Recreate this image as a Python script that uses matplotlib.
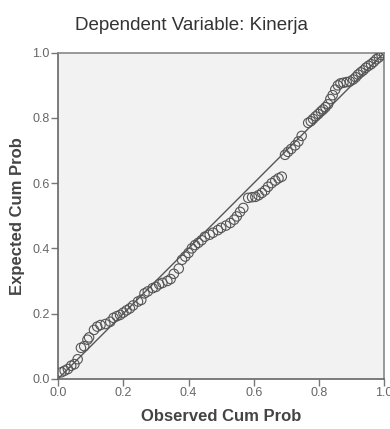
import matplotlib
matplotlib.use('Agg')
import matplotlib.pyplot as plt

plt.rcParams['font.family'] = ['Liberation Sans', 'DejaVu Sans']

# P-P plot: observed vs expected cumulative probability
observed = [0.010, 0.020, 0.030, 0.040, 0.050, 0.060, 0.070, 0.080, 0.090, 0.095,
            0.110, 0.120, 0.130, 0.145, 0.160, 0.170, 0.180, 0.190, 0.200, 0.210,
            0.220, 0.230, 0.245, 0.255, 0.265, 0.275, 0.290, 0.300, 0.310, 0.320,
            0.335, 0.345, 0.355, 0.370, 0.380, 0.390, 0.400, 0.410, 0.420, 0.430,
            0.440, 0.450, 0.465, 0.475, 0.490, 0.500, 0.515, 0.528, 0.540, 0.548,
            0.558, 0.568, 0.583, 0.595, 0.605, 0.615, 0.625, 0.635, 0.644, 0.655,
            0.666, 0.676, 0.686, 0.696, 0.705, 0.715, 0.727, 0.737, 0.747, 0.767,
            0.775, 0.782, 0.790, 0.798, 0.806, 0.813, 0.820, 0.828, 0.835, 0.842,
            0.850, 0.858, 0.866, 0.875, 0.885, 0.895, 0.905, 0.913, 0.920, 0.928,
            0.936, 0.944, 0.952, 0.960, 0.968, 0.976, 0.984, 0.992, 1.000]
expected = [0.020, 0.025, 0.030, 0.040, 0.045, 0.060, 0.095, 0.100, 0.120, 0.127,
            0.150, 0.160, 0.165, 0.168, 0.175, 0.187, 0.192, 0.196, 0.203, 0.210,
            0.216, 0.225, 0.237, 0.242, 0.262, 0.268, 0.278, 0.282, 0.290, 0.294,
            0.300, 0.306, 0.322, 0.338, 0.365, 0.375, 0.386, 0.400, 0.410, 0.417,
            0.425, 0.436, 0.442, 0.448, 0.456, 0.463, 0.470, 0.478, 0.488, 0.498,
            0.512, 0.524, 0.555, 0.557, 0.558, 0.563, 0.570, 0.578, 0.589, 0.600,
            0.608, 0.615, 0.620, 0.687, 0.696, 0.705, 0.716, 0.728, 0.745, 0.785,
            0.790, 0.797, 0.805, 0.812, 0.820, 0.826, 0.833, 0.842, 0.858, 0.870,
            0.887, 0.900, 0.906, 0.908, 0.910, 0.912, 0.918, 0.925, 0.933, 0.940,
            0.946, 0.954, 0.960, 0.965, 0.972, 0.980, 0.986, 0.993, 0.998]

ticks = [0.0, 0.2, 0.4, 0.6, 0.8, 1.0]
tick_labels = ['0.0', '0.2', '0.4', '0.6', '0.8', '1.0']

fig = plt.figure(figsize=(3.9, 4.29), dpi=100)
ax = fig.add_axes([0.149, 0.117, 0.836, 0.760])
ax.set_facecolor('#f2f2f2')

# reference diagonal
ax.plot([0, 1], [0, 1], color='#555555', linewidth=1.0, zorder=2)
ax.scatter(observed, expected, s=46, facecolors='none', edgecolors='#555555',
           linewidths=0.8, zorder=3)

ax.set_xlim(0, 1)
ax.set_ylim(0, 1)
ax.set_xticks(ticks)
ax.set_xticklabels(tick_labels)
ax.set_yticks(ticks)
ax.set_yticklabels(tick_labels)
ax.tick_params(axis='both', direction='out', length=5, width=1, color='#777777',
               labelcolor='#666666', labelsize=9, pad=1)

for side in ['left', 'bottom']:
    ax.spines[side].set_color('#666666')
    ax.spines[side].set_linewidth(1.2)
for side in ['top', 'right']:
    ax.spines[side].set_color('#888888')
    ax.spines[side].set_linewidth(1.2)

ax.set_xlabel('Observed Cum Prob', fontsize=12, fontweight='bold', color='#444444', labelpad=7)
ax.set_ylabel('Expected Cum Prob', fontsize=12, fontweight='bold', color='#444444', labelpad=5)
fig.text(0.49, 0.94, 'Dependent Variable: Kinerja', fontsize=13.5, color='#333333',
         ha='center', va='center')

plt.savefig('out.png', dpi=100)
plt.close()
